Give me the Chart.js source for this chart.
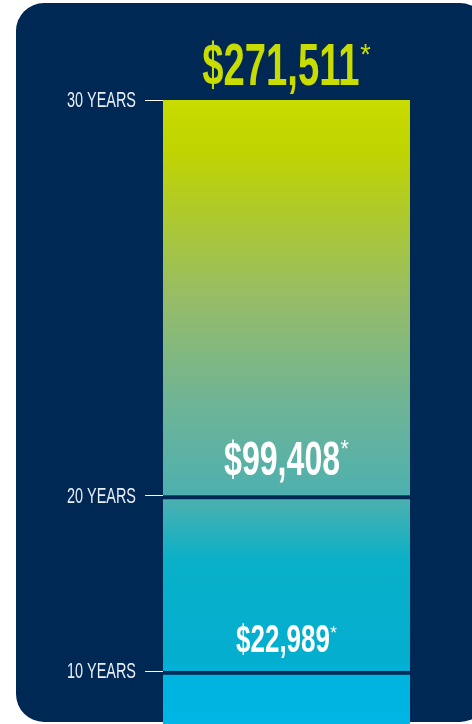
<!DOCTYPE html>
<html>
<head>
<meta charset="utf-8">
<script src="https://cdn.jsdelivr.net/npm/chart.js@4"></script>
<style>
  html, body { margin: 0; padding: 0; background: #ffffff; }
  #wrap { position: relative; width: 472px; height: 724px; overflow: hidden; }
  #panel {
    position: absolute; left: 16px; top: 3px; width: 472px; height: 719px;
    background: #002855; border-radius: 28px;
  }
  #growthChart { position: absolute; left: 0; top: 0; }
</style>
</head>
<body>
<div id="wrap">
  <div id="panel"></div>
  <canvas id="growthChart" width="472" height="724"></canvas>
</div>
<script>
// values
const periods = ['10 YEARS', '20 YEARS', '30 YEARS'];
const totals = [22989, 99408, 271511];

// label styling
const labelColors = ['#ffffff', '#ffffff', '#c8dc00'];
const labelSizes = [38, 48, 59];
const labelRatios = [0.38, 0.372, 0.36];
const labelOffsets = [19, 21, 15];

const navy = '#002855';
const family = '"Liberation Sans", Arial, sans-serif';

// each segment is the growth between two periods
const segments = totals.map((v, i) => v - (i ? totals[i - 1] : 0));

function barGradient(context) {
    const chart = context.chart;
    const { chartArea, scales } = chart;
    if (!chartArea) return '#00b4e0';
    const top = scales.y.getPixelForValue(totals[totals.length - 1]);
    const bottom = scales.y.getPixelForValue(0);
    const g = chart.ctx.createLinearGradient(0, top, 0, bottom);
    g.addColorStop(0, '#c8dc00');
    g.addColorStop(0.08, '#c0d400');
    g.addColorStop(0.32, '#96bc68');
    g.addColorStop(0.48, '#70b494');
    g.addColorStop(0.64, '#4cb0b0');
    g.addColorStop(0.74, '#08b0c8');
    g.addColorStop(0.9, '#04aed0');
    g.addColorStop(0.92, '#00b4e0');
    g.addColorStop(1, '#00b4e4');
    return g;
}

// draws text squeezed horizontally so digits get a condensed look
function condensedText(c, text, x, y, size, weight, digitRatio, align) {
    c.save();
    c.font = weight + ' ' + size + 'px ' + family;
    const sx = digitRatio * size / c.measureText('0').width;
    const w = c.measureText(text).width * sx;
    const left = align === 'right' ? x - w : x;
    c.translate(left, y);
    c.scale(sx, 1);
    c.textAlign = 'left';
    c.fillText(text, 0, 0);
    c.restore();
    return w;
}

function condensedWidth(c, text, size, weight, digitRatio) {
    c.save();
    c.font = weight + ' ' + size + 'px ' + family;
    const sx = digitRatio * size / c.measureText('0').width;
    const w = c.measureText(text).width * sx;
    c.restore();
    return w;
}

const valueLabels = {
    id: 'valueLabels',
    afterDatasetsDraw(chart) {
        const c = chart.ctx;
        const y = chart.scales.y;
        const x = chart.getDatasetMeta(0).data[0].x;
        c.save();
        c.textBaseline = 'alphabetic';
        totals.forEach((v, i) => {
            const size = labelSizes[i];
            const text = '$' + v.toLocaleString('en-US');
            const astSize = Math.round(size * 0.5);
            const w = condensedWidth(c, text, size, 'bold', labelRatios[i]);
            const aw = condensedWidth(c, '*', astSize, 'normal', 0.5);
            const gap = size * 0.01;
            const left = x - (w + gap + aw) / 2;
            const base = y.getPixelForValue(v) - labelOffsets[i];
            c.fillStyle = labelColors[i];
            condensedText(c, text, left, base, size, 'bold', labelRatios[i], 'left');
            condensedText(c, '*', left + w + gap, base - 0.71 * size + 0.71 * astSize, astSize, 'normal', 0.5, 'left');
        });
        c.restore();
    }
};

const periodLabels = {
    id: 'periodLabels',
    afterDraw(chart) {
        const c = chart.ctx;
        const y = chart.scales.y;
        const right = chart.chartArea.left - 18 - 9;
        c.save();
        c.fillStyle = '#e8eef4';
        c.textBaseline = 'middle';
        y.ticks.forEach((t, i) => {
            condensedText(c, periods[i], right, y.getPixelForValue(t.value) + 1, 22, 'normal', 0.365, 'right');
        });
        c.restore();
    }
};

const chart = new Chart(document.getElementById('growthChart'), {
    type: 'bar',
    data: {
        labels: ['growth'],
        datasets: segments.map((s, i) => ({
            label: periods[i],
            data: [s],
            backgroundColor: barGradient,
            borderColor: navy,
            borderWidth: i < segments.length - 1 ? { top: 4, left: 0, right: 0, bottom: 0 } : 0,
            borderSkipped: false,
            barPercentage: 1,
            categoryPercentage: 1
        }))
    },
    options: {
        responsive: false,
        animation: false,
        layout: { padding: { top: 100, right: 62, bottom: 0, left: 0 } },
        plugins: {
            legend: { display: false },
            tooltip: { enabled: false }
        },
        scales: {
            x: { display: false, stacked: true },
            y: {
                stacked: true,
                min: 0,
                max: totals[totals.length - 1],
                afterBuildTicks: scale => {
                    scale.ticks = totals.map(v => ({ value: v }));
                },
                afterFit: scale => {
                    scale.width = 163;
                    scale.paddingTop = 0;
                    scale.paddingBottom = 0;
                },
                border: { display: false },
                grid: {
                    drawOnChartArea: false,
                    drawTicks: true,
                    tickLength: 18,
                    color: '#ffffff',
                    lineWidth: 1
                },
                ticks: { display: false }
            }
        }
    },
    plugins: [valueLabels, periodLabels]
});
</script>
</body>
</html>
